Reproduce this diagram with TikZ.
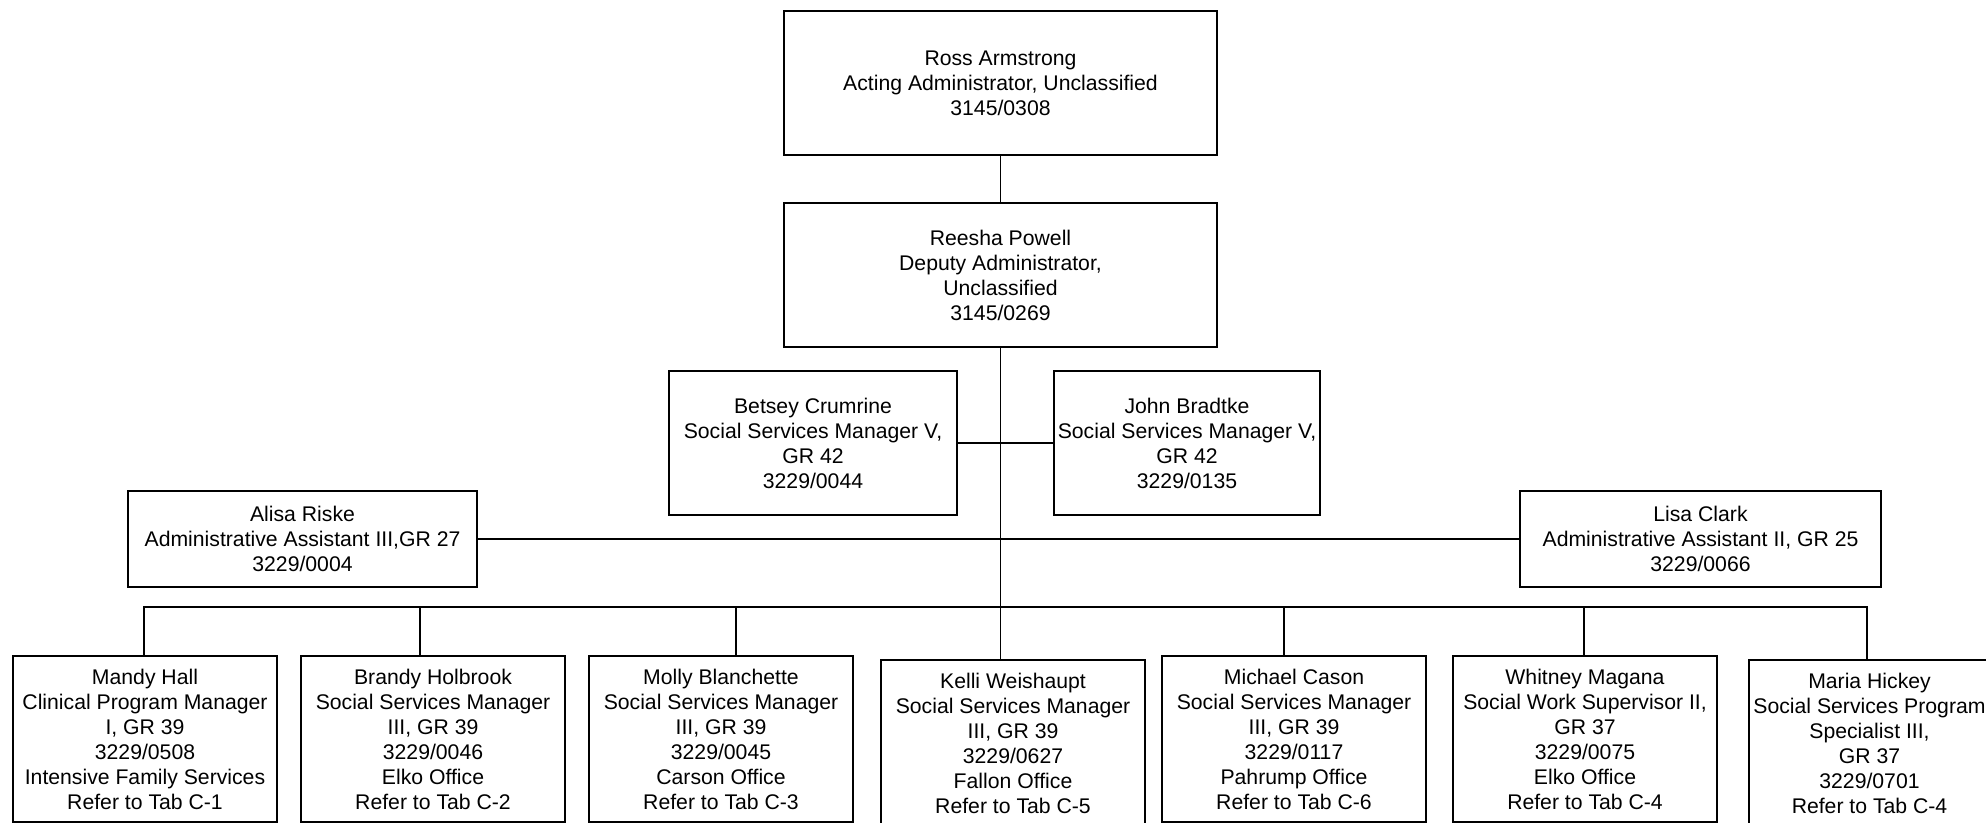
\documentclass[tikz,border=0pt]{standalone}
\usepackage{fontspec}
\setmainfont{Liberation Sans}
\begin{document}
\begin{tikzpicture}[x=0.5pt,y=-0.5pt,
  box/.style={draw, line width=1pt, rectangle, inner sep=0pt, align=center,
    font=\fontsize{10.6}{12.5}\selectfont, anchor=north west},
  topbox/.style={box, minimum width=216.5pt, minimum height=72pt},
  midbox/.style={box, minimum height=72pt},
  asstbox/.style={box, minimum height=48pt},
  lowbox/.style={box, minimum width=132pt, minimum height=83pt},
  conn/.style={line width=0.7pt}]
\useasboundingbox (0,0) rectangle (1986,823);

\node[topbox] (ross) at (783,10) {Ross Armstrong\\Acting Administrator, Unclassified\\3145/0308};
\node[topbox] (reesha) at (783,202) {Reesha Powell\\Deputy Administrator,\\Unclassified\\3145/0269};
\node[midbox, minimum width=144pt] (betsey) at (668,370) {Betsey Crumrine\\Social Services Manager V,\\GR 42\\3229/0044};
\node[midbox, minimum width=133pt] (john) at (1053,370) {John Bradtke\\Social Services Manager V,\\GR 42\\3229/0135};
\node[asstbox, minimum width=174.5pt] (alisa) at (127,490) {Alisa Riske\\Administrative Assistant III,GR 27\\3229/0004};
\node[asstbox, minimum width=180.5pt] (lisa) at (1519,490) {Lisa Clark\\Administrative Assistant II, GR 25\\3229/0066};

\node[lowbox] (mandy) at (12,655) {Mandy Hall\\Clinical Program Manager\\I, GR 39\\3229/0508\\Intensive Family Services\\Refer to Tab C-1};
\node[lowbox] (brandy) at (300,655) {Brandy Holbrook\\Social Services Manager\\III, GR 39\\3229/0046\\Elko Office\\Refer to Tab C-2};
\node[lowbox] (molly) at (588,655) {Molly Blanchette\\Social Services Manager\\III, GR 39\\3229/0045\\Carson Office\\Refer to Tab C-3};
\node[lowbox] (kelli) at (880,659) {Kelli Weishaupt\\Social Services Manager\\III, GR 39\\3229/0627\\Fallon Office\\Refer to Tab C-5};
\node[lowbox] (michael) at (1161,655) {Michael Cason\\Social Services Manager\\III, GR 39\\3229/0117\\Pahrump Office\\Refer to Tab C-6};
\node[lowbox] (whitney) at (1452,655) {Whitney Magana\\Social Work Supervisor II,\\GR 37\\3229/0075\\Elko Office\\Refer to Tab C-4};
\node[lowbox, minimum width=120.5pt] (maria) at (1748,659) {Maria Hickey\\Social Services Program\\Specialist III,\\GR 37\\3229/0701\\Refer to Tab C-4};

\coordinate (dA) at (144,607);
\coordinate (dB) at (420,607);
\coordinate (dC) at (736,607);
\coordinate (dE) at (1284,607);
\coordinate (dF) at (1584,607);
\coordinate (dG) at (1867,607);

\draw[conn] (ross.south) -- (reesha.north);
\draw[conn] (reesha.south) -- (reesha.south |- kelli.north);
\draw[conn] (betsey.east) -- (john.west);
\draw[conn] (alisa.east) -- (lisa.west);
\draw[conn] (dA |- mandy.north) -- (dA) -- (dG) -- (dG |- maria.north);
\draw[conn] (dB) -- (dB |- brandy.north);
\draw[conn] (dC) -- (dC |- molly.north);
\draw[conn] (dE) -- (dE |- michael.north);
\draw[conn] (dF) -- (dF |- whitney.north);
\end{tikzpicture}
\end{document}
